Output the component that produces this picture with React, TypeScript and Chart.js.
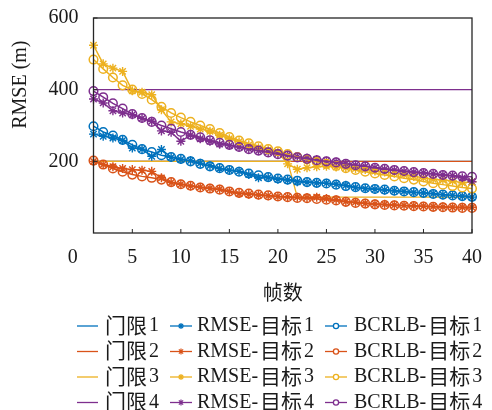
import React, { useEffect, useRef } from "react";
import { Chart, registerables } from "chart.js";

Chart.register(...registerables);

// Frame index (x axis)
const FRAMES = [
  1, 2, 3, 4, 5, 6, 7, 8, 9, 10, 11, 12, 13, 14, 15, 16, 17, 18, 19, 20,
  21, 22, 23, 24, 25, 26, 27, 28, 29, 30, 31, 32, 33, 34, 35, 36, 37, 38, 39, 40,
];

const X_TICK_LABELS = [0, 5, 10, 15, 20, 25, 30, 35, 40];
const Y_TICK_LABELS = [200, 400, 600];

// Gate thresholds per target (m)
const THRESHOLD_1 = [
  200, 200, 200, 200, 200, 200, 200, 200, 200, 200, 200, 200, 200, 200, 200, 200, 200, 200, 200, 200,
  200, 200, 200, 200, 200, 200, 200, 200, 200, 200, 200, 200, 200, 200, 200, 200, 200, 200, 200, 200,
];
const THRESHOLD_2 = [
  200, 200, 200, 200, 200, 200, 200, 200, 200, 200, 200, 200, 200, 200, 200, 200, 200, 200, 200, 200,
  200, 200, 200, 200, 200, 200, 200, 200, 200, 200, 200, 200, 200, 200, 200, 200, 200, 200, 200, 200,
];
const THRESHOLD_3 = [
  200, 200, 200, 200, 200, 200, 200, 200, 200, 200, 200, 200, 200, 200, 200, 200, 200, 200, 200, 200,
  200, 100, 100, 100, 100, 100, 100, 100, 100, 100, 100, 100, 100, 100, 100, 100, 100, 100, 100, 100,
];
const THRESHOLD_4 = [
  400, 400, 400, 400, 400, 400, 400, 400, 400, 400, 400, 400, 400, 400, 400, 400, 400, 400, 400, 400,
  400, 400, 400, 400, 400, 400, 400, 400, 400, 400, 400, 400, 400, 400, 400, 400, 400, 400, 400, 400,
];

// Tracking RMSE per target (m)
const RMSE_1 = [
  276, 270, 265, 258, 237, 234, 214, 233, 211, 205, 202, 195, 188, 180, 175, 172, 163, 154, 155, 150,
  148, 143, 142, 140, 139, 136, 133, 127, 124, 122, 120, 118, 116, 113, 112, 110, 107, 105, 103, 100,
];
const RMSE_2 = [
  200, 191, 185, 180, 177, 175, 172, 154, 141, 136, 131, 128, 125, 122, 116, 110, 108, 106, 104, 102,
  101, 100, 99, 100, 96, 93, 88, 86, 83, 81, 80, 78, 77, 76, 75, 74, 73, 72, 72, 72,
];
const RMSE_3 = [
  524, 472, 460, 451, 397, 393, 386, 344, 310, 305, 298, 290, 284, 273, 263, 255, 246, 238, 232, 226,
  193, 178, 182, 185, 186, 184, 182, 180, 177, 173, 170, 167, 163, 158, 154, 150, 148, 145, 140, 143,
];
const RMSE_4 = [
  374, 363, 341, 335, 330, 320, 312, 285, 281, 256, 273, 263, 256, 248, 244, 240, 235, 230, 226, 222,
  218, 213, 209, 205, 201, 198, 194, 189, 186, 182, 178, 175, 172, 170, 168, 165, 162, 160, 154, 143,
];

// Bayesian CRLB per target (m)
const BCRLB_1 = [
  298, 282, 272, 260, 246, 234, 226, 217, 212, 207, 200, 193, 186, 181, 176, 171, 166, 161, 156, 152,
  149, 146, 142, 140, 138, 135, 131, 128, 125, 123, 121, 118, 116, 114, 112, 109, 107, 105, 103, 101,
];
const BCRLB_2 = [
  202, 191, 180, 171, 163, 158, 154, 149, 142, 136, 132, 127, 124, 121, 116, 112, 110, 107, 105, 102,
  100, 98, 97, 95, 93, 91, 87, 84, 82, 80, 78, 77, 76, 75, 74, 73, 72, 71, 70, 70,
];
const BCRLB_3 = [
  484, 458, 434, 412, 400, 388, 372, 352, 335, 322, 310, 300, 290, 279, 268, 258, 250, 242, 234, 228,
  220, 212, 205, 198, 193, 187, 181, 176, 171, 166, 162, 158, 153, 149, 144, 139, 135, 131, 127, 124,
];
const BCRLB_4 = [
  396, 379, 362, 347, 332, 321, 310, 300, 291, 282, 274, 267, 259, 252, 246, 240, 234, 230, 225, 220,
  216, 211, 207, 203, 200, 197, 193, 189, 186, 182, 179, 176, 173, 170, 167, 165, 162, 160, 158, 157,
];

const COLORS = ["#0072BD", "#D95319", "#EDB120", "#7E2F8E"];

const SERIF = '"Liberation Serif", "Times New Roman", serif';
const CJK = '"Noto Sans CJK SC", "Noto Sans CJK JP", sans-serif';
const AXIS_COLOR = "#262626";
const TEXT_COLOR = "#1a1a1a";

type Kind = "gate" | "rmse" | "bcrlb";

const toPoints = (ys: number[]) => FRAMES.map((f, i) => ({ x: f, y: ys[i] }));

function makeDataset(label: string, ys: number[], color: string, kind: Kind, order: number) {
  const base: any = {
    label,
    data: toPoints(ys),
    borderColor: color,
    backgroundColor: color,
    fill: false,
    tension: 0,
    clip: false,
    order,
    kind,
  };
  if (kind === "gate") {
    return { ...base, borderWidth: 1.3, pointRadius: 0 };
  }
  if (kind === "rmse") {
    return {
      ...base,
      borderWidth: 1.5,
      pointStyle: "star",
      pointRadius: 4.5,
      pointBorderWidth: 1.4,
      pointBorderColor: color,
      pointBackgroundColor: color,
    };
  }
  return {
    ...base,
    borderWidth: 1.5,
    pointStyle: "circle",
    pointRadius: 4.3,
    pointBorderWidth: 1.5,
    pointBorderColor: color,
    pointBackgroundColor: "rgba(255,255,255,0)",
  };
}

// Draws text where CJK runs use a CJK face and the rest a serif face.
function drawMixed(
  ctx: CanvasRenderingContext2D,
  text: string,
  x: number,
  y: number,
  latinPx: number,
  cjkPx: number,
  align: "left" | "center"
) {
  const runs = text.match(/[\u3400-\u9fff]+|[^\u3400-\u9fff]+/g) || [];
  const gap = 2;
  const parts = runs.map((r) => {
    const isCjk = /[\u3400-\u9fff]/.test(r);
    const font = isCjk ? `${cjkPx}px ${CJK}` : `${latinPx}px ${SERIF}`;
    ctx.font = font;
    return { r, font, isCjk, w: ctx.measureText(r).width };
  });
  const total = parts.reduce((s, p) => s + p.w, 0) + gap * Math.max(0, parts.length - 1);
  let cx = align === "center" ? x - total / 2 : x;
  ctx.textAlign = "left";
  ctx.textBaseline = "middle";
  for (const p of parts) {
    ctx.font = p.font;
    ctx.fillText(p.r, cx, p.isCjk ? y - 1 : y);
    cx += p.w + gap;
  }
}

function drawStar(ctx: CanvasRenderingContext2D, x: number, y: number, r: number) {
  ctx.beginPath();
  ctx.moveTo(x - r, y);
  ctx.lineTo(x + r, y);
  ctx.moveTo(x, y - r);
  ctx.lineTo(x, y + r);
  const d = r * Math.SQRT1_2;
  ctx.moveTo(x - d, y - d);
  ctx.lineTo(x + d, y + d);
  ctx.moveTo(x - d, y + d);
  ctx.lineTo(x + d, y - d);
  ctx.stroke();
}

const framePlugin = {
  id: "matlabFrame",
  afterDatasetsDraw(chart: any) {
    const { ctx, chartArea } = chart;
    const xs = chart.scales.x;
    const ys = chart.scales.y;
    ctx.save();
    ctx.strokeStyle = AXIS_COLOR;
    ctx.lineWidth = 1.3;
    ctx.strokeRect(chartArea.left, chartArea.top, chartArea.right - chartArea.left, chartArea.bottom - chartArea.top);
    // inward tick marks
    ctx.lineWidth = 1;
    ctx.beginPath();
    for (const v of X_TICK_LABELS) {
      if (v < xs.min || v > xs.max) continue;
      const px = xs.getPixelForValue(v);
      ctx.moveTo(px, chartArea.bottom);
      ctx.lineTo(px, chartArea.bottom - 4);
    }
    for (const v of Y_TICK_LABELS) {
      const py = ys.getPixelForValue(v);
      ctx.moveTo(chartArea.left, py);
      ctx.lineTo(chartArea.left + 4, py);
    }
    ctx.stroke();
    ctx.restore();
  },
  afterDraw(chart: any) {
    const { ctx, chartArea } = chart;
    const xs = chart.scales.x;
    const ys = chart.scales.y;
    ctx.save();
    ctx.fillStyle = TEXT_COLOR;

    // x tick labels
    ctx.font = `20px ${SERIF}`;
    ctx.textAlign = "center";
    ctx.textBaseline = "middle";
    const labelY = chartArea.bottom + 25;
    for (const v of X_TICK_LABELS) {
      const px = v < xs.min ? xs.getPixelForValue(v) - 11 : xs.getPixelForValue(v);
      ctx.fillText(String(v), px, labelY);
    }

    // y tick labels
    ctx.textAlign = "right";
    for (const v of Y_TICK_LABELS) {
      ctx.fillText(String(v), chartArea.left - 15, ys.getPixelForValue(v));
    }

    // axis titles
    drawMixed(ctx, "帧数", (chartArea.left + chartArea.right) / 2, chartArea.bottom + 60, 20, 20, "center");
    ctx.save();
    ctx.translate(21, chartArea.top + (chartArea.bottom - chartArea.top) * 0.31);
    ctx.rotate(-Math.PI / 2);
    ctx.font = `20px ${SERIF}`;
    ctx.textAlign = "center";
    ctx.textBaseline = "middle";
    ctx.fillText("RMSE (m)", 0, 0);
    ctx.restore();

    // legend: 4 rows x 3 columns (gate, RMSE, BCRLB)
    const cols = [
      { x0: 77, x1: 98, tx: 105 },
      { x0: 170, x1: 192, tx: 197 },
      { x0: 325, x1: 347, tx: 354 },
    ];
    const rowY0 = 326;
    const rowStep = 25.5;
    const kinds: Kind[] = ["gate", "rmse", "bcrlb"];
    chart.data.datasets.forEach((ds: any) => {
      const c = kinds.indexOf(ds.kind);
      const r = COLORS.indexOf(ds.borderColor);
      const col = cols[c];
      const y = rowY0 + r * rowStep;
      ctx.strokeStyle = ds.borderColor;
      ctx.lineWidth = 1.3;
      ctx.beginPath();
      ctx.moveTo(col.x0, y);
      ctx.lineTo(col.x1, y);
      ctx.stroke();
      const mx = (col.x0 + col.x1) / 2;
      if (ds.kind === "rmse") {
        ctx.lineWidth = 1.2;
        drawStar(ctx, mx, y, 3);
      } else if (ds.kind === "bcrlb") {
        ctx.lineWidth = 1.3;
        ctx.beginPath();
        ctx.arc(mx, y, 2.6, 0, Math.PI * 2);
        ctx.fillStyle = "#ffffff";
        ctx.fill();
        ctx.stroke();
      }
      ctx.fillStyle = TEXT_COLOR;
      drawMixed(ctx, ds.label, col.tx, y, 20, 21, "left");
    });
    ctx.restore();
  },
};

export default function App() {
  const canvasRef = useRef<HTMLCanvasElement | null>(null);

  useEffect(() => {
    document.body.style.margin = "0";
    const canvas = canvasRef.current;
    if (!canvas) return;

    const gates = [THRESHOLD_1, THRESHOLD_2, THRESHOLD_3, THRESHOLD_4];
    const rmses = [RMSE_1, RMSE_2, RMSE_3, RMSE_4];
    const bcrlbs = [BCRLB_1, BCRLB_2, BCRLB_3, BCRLB_4];

    const list: any[] = [];
    gates.forEach((g, i) => list.push(["门限" + (i + 1), g, COLORS[i], "gate"]));
    rmses.forEach((g, i) => list.push(["RMSE-目标" + (i + 1), g, COLORS[i], "rmse"]));
    bcrlbs.forEach((g, i) => list.push(["BCRLB-目标" + (i + 1), g, COLORS[i], "bcrlb"]));
    // later series are painted above earlier ones
    const datasets = list.map((d, i) => makeDataset(d[0], d[1], d[2], d[3], list.length - i));

    const chart = new Chart(canvas, {
      type: "line",
      data: { datasets },
      options: {
        responsive: false,
        animation: false,
        devicePixelRatio: 1,
        layout: { padding: { left: 0, right: 20, top: 18, bottom: 0 } },
        plugins: {
          legend: { display: false },
          tooltip: { enabled: false },
          title: { display: false },
        },
        scales: {
          x: {
            type: "linear",
            min: 1,
            max: 40,
            grid: { display: false },
            border: { display: false },
            ticks: { display: false },
            afterFit: (s: any) => {
              s.height = 177;
            },
          },
          y: {
            type: "linear",
            min: 0,
            max: 600,
            grid: { display: false },
            border: { display: false },
            ticks: { display: false, stepSize: 200 },
            afterFit: (s: any) => {
              s.width = 93.5;
            },
          },
        },
      } as any,
      plugins: [framePlugin],
    });

    return () => chart.destroy();
  }, []);

  return (
    <div style={{ position: "absolute", left: 0, top: 0, width: 492, height: 410, background: "#ffffff" }}>
      <canvas ref={canvasRef} width={492} height={410} style={{ display: "block" }} />
    </div>
  );
}
